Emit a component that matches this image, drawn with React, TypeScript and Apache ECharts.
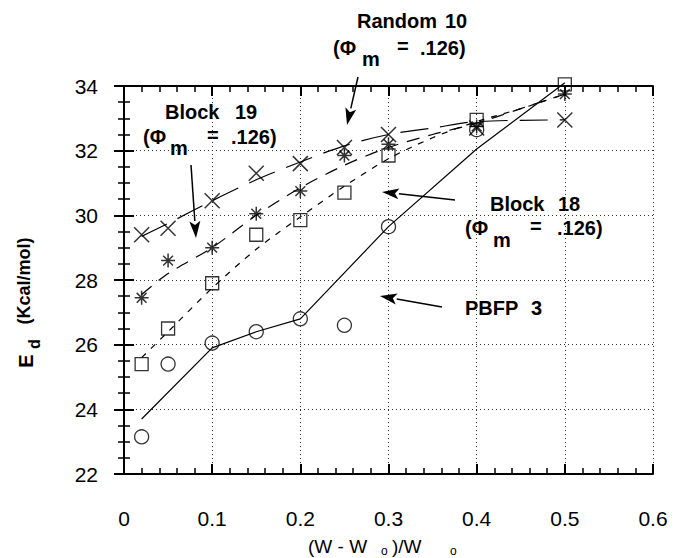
import React, { useEffect, useRef } from "react";
import * as echarts from "echarts";

// ---- data ----
const markerX = [0.02, 0.05, 0.1, 0.15, 0.2, 0.25, 0.3, 0.4, 0.5];
const pbfpX = [0.02, 0.05, 0.1, 0.15, 0.2, 0.25, 0.3, 0.4];
const pbfpY = [23.15, 25.4, 26.05, 26.4, 26.8, 26.6, 29.65, 32.65];
const block18Y = [25.4, 26.5, 27.9, 29.4, 29.85, 30.7, 31.85, 32.95, 34.05];
const random10Y = [27.45, 28.6, 29.0, 30.05, 30.75, 31.85, 32.2, 32.75, 33.75];
const block19Y = [29.4, 29.6, 30.45, 31.3, 31.6, 32.1, 32.5, 32.7, 32.95];

const pbfpFitX = [0.02, 0.1, 0.15, 0.2, 0.3, 0.4, 0.5];
const pbfpFitY = [23.7, 25.9, 26.4, 26.8, 29.65, 32.05, 34.1];
const curveX = [0.02, 0.05, 0.1, 0.15, 0.2, 0.25, 0.3, 0.35, 0.4, 0.45, 0.5];
const block18FitY = [25.6, 26.4, 27.75, 28.95, 29.95, 30.9, 31.75, 32.4, 32.9, 33.3, 33.75];
const random10FitY = [27.55, 28.2, 29.0, 30.0, 30.85, 31.55, 32.1, 32.5, 32.85, 33.3, 33.75];
const block19FitX = [0.02, 0.05, 0.1, 0.15, 0.2, 0.25, 0.3, 0.35, 0.4, 0.5];
const block19FitY = [29.35, 29.75, 30.45, 31.1, 31.65, 32.15, 32.5, 32.7, 32.9, 32.95];

const xTicks = ["0", "0.1", "0.2", "0.3", "0.4", "0.5", "0.6"];

const zip = (xs: number[], ys: number[]) => xs.map((x, i) => [x, ys[i]]);

const FONT = '"Liberation Sans", Arial, sans-serif';
const X_SYMBOL = "path://M0,0L10,10M10,0L0,10";
const STAR_SYMBOL = "path://M0,5L10,5M5,0L5,10M1.5,1.5L8.5,8.5M8.5,1.5L1.5,8.5";

function txt(text: string, x: number, y: number, size = 20, weight = "bold", align = "left", rotation = 0) {
  return {
    type: "text",
    x,
    y,
    rotation,
    style: {
      text,
      fill: "#000",
      fontSize: size,
      fontWeight: weight,
      fontFamily: FONT,
      align,
      textAlign: align,
      verticalAlign: "middle",
      textVerticalAlign: "middle",
    },
  };
}

function arrow(x1: number, y1: number, x2: number, y2: number) {
  const dx = x2 - x1;
  const dy = y2 - y1;
  const len = Math.sqrt(dx * dx + dy * dy);
  const ux = dx / len;
  const uy = dy / len;
  const hl = 17;
  const hw = 5.5;
  const bx = x2 - ux * hl;
  const by = y2 - uy * hl;
  return [
    {
      type: "line",
      shape: { x1, y1, x2: bx, y2: by },
      style: { stroke: "#000", lineWidth: 1.5 },
    },
    {
      type: "polygon",
      shape: {
        points: [
          [x2, y2],
          [bx - uy * hw, by + ux * hw],
          [bx + ux * 4, by + uy * 4],
          [bx + uy * hw, by - ux * hw],
        ],
      },
      style: { fill: "#000" },
    },
  ];
}

export default function App() {
  const ref = useRef<HTMLDivElement>(null);
  useEffect(() => {
    if (!ref.current) return;
    const chart = echarts.init(ref.current, undefined, { renderer: "svg" });
    const tickCommon = {
      axisLine: { show: true, lineStyle: { color: "#000", width: 2 } },
      axisTick: { show: true, inside: true, length: 10, lineStyle: { color: "#000", width: 2 } },
      minorTick: { show: true, length: 6, lineStyle: { color: "#000", width: 1.5 } },
    };
    const grid = { left: 124, top: 86, width: 529, height: 388 };
    const option: any = {
      animation: false,
      backgroundColor: "#fff",
      grid,
      xAxis: [
        {
          type: "value",
          min: 0,
          max: 0.6,
          interval: 0.1,
          ...tickCommon,
          minorTick: { ...tickCommon.minorTick, splitNumber: 5 },
          axisLabel: {
            margin: 34,
            fontSize: 21,
            fontFamily: FONT,
            color: "#000",
            formatter: (v: number) => xTicks[Math.round(v * 10)],
          },
          splitLine: { show: true, lineStyle: { color: "#333", width: 1, type: [1, 3] } },
        },
        {
          type: "value",
          position: "top",
          min: 0,
          max: 0.6,
          interval: 0.1,
          ...tickCommon,
          minorTick: { ...tickCommon.minorTick, splitNumber: 5 },
          axisLabel: { show: false },
          splitLine: { show: false },
        },
      ],
      yAxis: [
        {
          type: "value",
          min: 22,
          max: 34,
          interval: 2,
          ...tickCommon,
          minorTick: { ...tickCommon.minorTick, splitNumber: 4 },
          axisLabel: { margin: 26, fontSize: 21, fontFamily: FONT, color: "#000" },
          splitLine: { show: true, lineStyle: { color: "#333", width: 1, type: [1, 3] } },
        },
        {
          type: "value",
          position: "right",
          min: 22,
          max: 34,
          interval: 2,
          ...tickCommon,
          minorTick: { ...tickCommon.minorTick, splitNumber: 4 },
          axisLabel: { show: false },
          splitLine: { show: false },
        },
      ],
      series: [
        {
          type: "line",
          data: zip(pbfpFitX, pbfpFitY),
          showSymbol: false,
          clip: false,
          lineStyle: { color: "#000", width: 1.2, type: "solid" },
        },
        {
          type: "line",
          data: zip(curveX, block18FitY),
          showSymbol: false,
          clip: false,
          smooth: 0.3,
          lineStyle: { color: "#000", width: 1.2, type: [6, 7] },
        },
        {
          type: "line",
          data: zip(curveX, random10FitY),
          showSymbol: false,
          clip: false,
          smooth: 0.3,
          lineStyle: { color: "#000", width: 1.2, type: [13, 9] },
        },
        {
          type: "line",
          data: zip(block19FitX, block19FitY),
          showSymbol: false,
          clip: false,
          smooth: 0.3,
          lineStyle: { color: "#000", width: 1.2, type: [28, 12] },
        },
        {
          type: "scatter",
          data: zip(pbfpX, pbfpY),
          symbol: "circle",
          symbolSize: 14,
          clip: false,
          itemStyle: { color: "rgba(255,255,255,0)", borderColor: "#000", borderWidth: 1.3 },
        },
        {
          type: "scatter",
          data: zip(markerX, block18Y),
          symbol: "rect",
          symbolSize: 13,
          clip: false,
          itemStyle: { color: "rgba(255,255,255,0)", borderColor: "#000", borderWidth: 1.3 },
        },
        {
          type: "scatter",
          data: zip(markerX, random10Y),
          symbol: STAR_SYMBOL,
          symbolSize: 14,
          clip: false,
          itemStyle: { color: "none", borderColor: "#000", borderWidth: 1.5 },
        },
        {
          type: "scatter",
          data: zip(markerX, block19Y),
          symbol: X_SYMBOL,
          symbolSize: 15,
          clip: false,
          itemStyle: { color: "none", borderColor: "#000", borderWidth: 1.5 },
        },
      ],
      graphic: [
        // Random 10
        txt("Random", 357, 21),
        txt("10", 445, 21),
        txt("(Φ", 333, 48),
        txt("m", 362, 59),
        txt("=", 397, 46),
        txt(".126)", 420, 48),
        ...arrow(358, 77, 347, 125),
        // Block 19
        txt("Block", 165, 112),
        txt("19", 235, 112),
        txt("(Φ", 143, 137),
        txt("m", 170, 148),
        txt("=", 207, 135),
        txt(".126)", 231, 137),
        ...arrow(191, 165, 196, 238),
        // Block 18
        txt("Block", 490, 204),
        txt("18", 558, 204),
        txt("(Φ", 465, 228),
        txt("m", 493, 240),
        txt("=", 530, 226),
        txt(".126)", 557, 228),
        ...arrow(455, 200, 382, 192),
        // PBFP 3
        txt("PBFP", 465, 308),
        txt("3", 531, 308),
        ...arrow(442, 307, 380, 296),
        // y axis title
        txt("(Kcal/mol)", 24, 281, 18, "bold", "center", Math.PI / 2),
        txt("E", 26, 361, 20, "bold", "center", Math.PI / 2),
        txt("d", 34, 344, 16, "bold", "center", Math.PI / 2),
        // x axis title
        txt("(W - W", 308, 546, 19, "normal", "left"),
        txt("o", 381, 551, 12, "normal", "left"),
        txt(")/W", 392, 546, 19, "normal", "left"),
        txt("o", 450, 551, 12, "normal", "left"),
      ],
    };
    chart.setOption(option);
    return () => chart.dispose();
  }, []);
  return (
    <div
      ref={ref}
      style={{ position: "absolute", left: 0, top: 0, width: 675, height: 558, background: "#fff" }}
    />
  );
}
